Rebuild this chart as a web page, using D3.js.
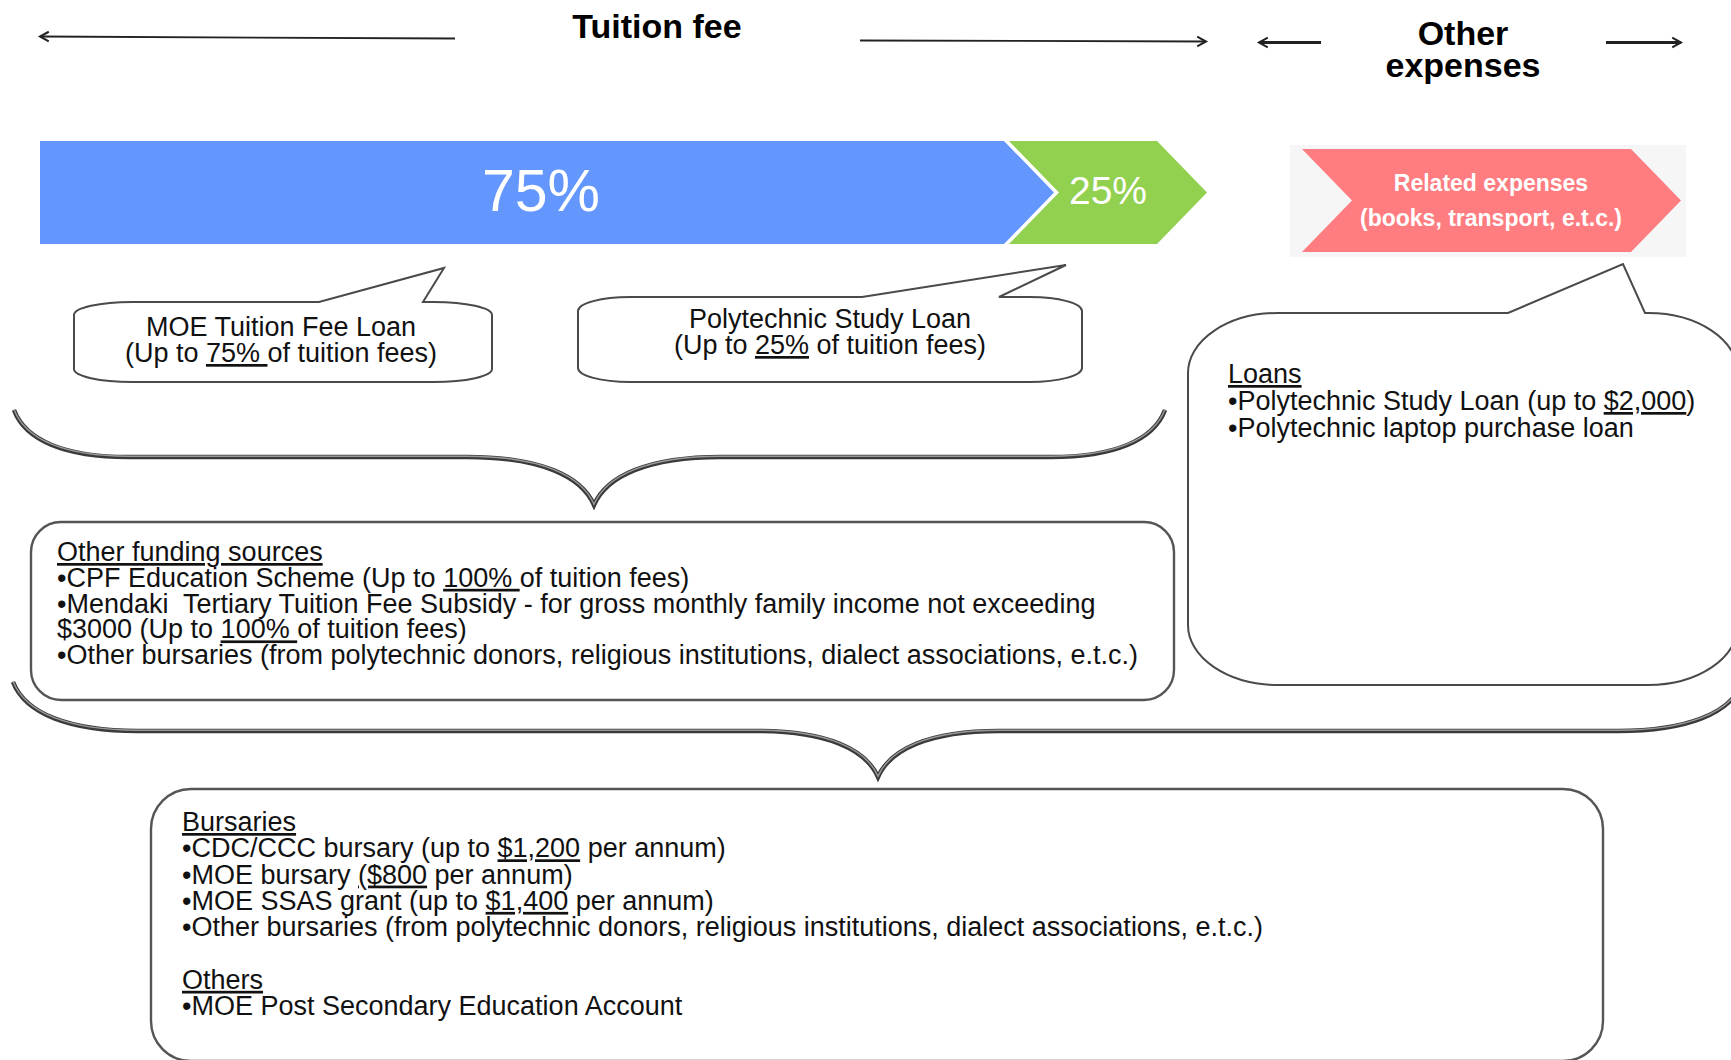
<!DOCTYPE html>
<html>
<head>
<meta charset="utf-8">
<script src="https://cdn.jsdelivr.net/npm/d3@7"></script>
<style>
body { margin: 0; background: #fff; }
text { font-family: "Liberation Sans", Arial, sans-serif; white-space: pre; }
</style>
</head>
<body>
<script>
var width = 1731, height = 1060;

// tuition fee split (percent)
var shares = [75, 25];
var shareLabels = ["75%", "25%"];
var shareColors = ["#6397fe", "#92d050"];

var headers = ["Tuition fee", "Other", "expenses"];
var relatedLines = ["Related expenses", "(books, transport, e.t.c.)"];

// text between _..._ is underlined
var moeLoanLines = ["MOE Tuition Fee Loan", "(Up to _75% _of tuition fees)"];
var polyLoanLines = ["Polytechnic Study Loan", "(Up to _25%_ of tuition fees)"];
var loansLines = [
  "_Loans_",
  "\u2022Polytechnic Study Loan (up to _$2,000_)",
  "\u2022Polytechnic laptop purchase loan"
];
var fundingLines = [
  "_Other funding sources_",
  "\u2022CPF Education Scheme (Up to _100% _of tuition fees)",
  "\u2022Mendaki  Tertiary Tuition Fee Subsidy - for gross monthly family income not exceeding",
  "$3000 (Up to _100% _of tuition fees)",
  "\u2022Other bursaries (from polytechnic donors, religious institutions, dialect associations, e.t.c.)"
];
var bursaryLines = [
  "_Bursaries_",
  "\u2022CDC/CCC bursary (up to _$1,200_ per annum)",
  "\u2022MOE bursary _($800_ per annum)",
  "\u2022MOE SSAS grant (up to _$1,400_ per annum)",
  "\u2022Other bursaries (from polytechnic donors, religious institutions, dialect associations, e.t.c.)",
  "",
  "_Others_",
  "\u2022MOE Post Secondary Education Account"
];

var svg = d3.select("body").append("svg")
    .attr("width", width)
    .attr("height", height);

// ---------- helpers ----------
function chevron(x0, x1, y0, y1, depth, notch) {
  var m = (y0 + y1) / 2;
  var p = d3.path();
  p.moveTo(x0, y0);
  p.lineTo(x1, y0);
  p.lineTo(x1 + depth, m);
  p.lineTo(x1, y1);
  p.lineTo(x0, y1);
  if (notch) p.lineTo(x0 + depth, m);
  p.closePath();
  return p.toString();
}

// rounded box with elliptical corners and an optional tail on the top edge
function callout(x0, y0, x1, y1, rx, ry, tail) {
  var p = "M" + (x0 + rx) + "," + y0;
  if (tail) {
    p += "L" + tail[0] + "," + y0 + "L" + tail[1] + "," + tail[2] + "L" + tail[3] + "," + y0;
  }
  p += "L" + (x1 - rx) + "," + y0;
  p += "A" + rx + " " + ry + " 0 0 1 " + x1 + "," + (y0 + ry);
  p += "L" + x1 + "," + (y1 - ry);
  p += "A" + rx + " " + ry + " 0 0 1 " + (x1 - rx) + "," + y1;
  p += "L" + (x0 + rx) + "," + y1;
  p += "A" + rx + " " + ry + " 0 0 1 " + x0 + "," + (y1 - ry);
  p += "L" + x0 + "," + (y0 + ry);
  p += "A" + rx + " " + ry + " 0 0 1 " + (x0 + rx) + "," + y0;
  return p + "Z";
}

function brace(xl, xr, xm, yTip, yBar, yPt, ew, mw) {
  return "M" + xl + "," + yTip +
    "C" + (xl + ew * 0.1) + "," + (yTip + (yBar - yTip) * 0.65) + " " + (xl + ew * 0.45) + "," + yBar + " " + (xl + ew) + "," + yBar +
    "L" + (xm - mw) + "," + yBar +
    "C" + (xm - mw * 0.42) + "," + yBar + " " + (xm - mw * 0.1) + "," + (yBar + (yPt - yBar) * 0.4) + " " + xm + "," + yPt +
    "C" + (xm + mw * 0.1) + "," + (yBar + (yPt - yBar) * 0.4) + " " + (xm + mw * 0.42) + "," + yBar + " " + (xm + mw) + "," + yBar +
    "L" + (xr - ew) + "," + yBar +
    "C" + (xr - ew * 0.45) + "," + yBar + " " + (xr - ew * 0.1) + "," + (yTip + (yBar - yTip) * 0.65) + " " + xr + "," + yTip;
}

function drawBrace(d) {
  svg.append("path").attr("d", d)
    .attr("fill", "none").attr("stroke", "#3a3a3a").attr("stroke-width", 4.5);
  svg.append("path").attr("d", d)
    .attr("fill", "none").attr("stroke", "#9a9a9a").attr("stroke-width", 1.4)
    .attr("transform", "translate(0,-0.8)");
}

function addLines(lines, x, y0, dy, anchor, size) {
  var t = svg.append("g");
  lines.forEach(function(line, i) {
    var text = t.append("text")
      .attr("x", x)
      .attr("y", y0 + i * dy)
      .attr("text-anchor", anchor)
      .attr("font-size", size)
      .attr("fill", "#111");
    line.split("_").forEach(function(seg, j) {
      if (!seg) return;
      var ts = text.append("tspan").text(seg);
      if (j % 2 === 1) ts.style("text-decoration", "underline");
    });
  });
}

function arrow(x1, y1, x2, y2, w) {
  var a = Math.atan2(y2 - y1, x2 - x1), L = 10;
  svg.append("line")
    .attr("x1", x1).attr("y1", y1).attr("x2", x2).attr("y2", y2)
    .attr("stroke", "#222").attr("stroke-width", w);
  svg.append("path")
    .attr("d", "M" + (x2 - L * Math.cos(a - 0.5)) + "," + (y2 - L * Math.sin(a - 0.5)) +
               "L" + x2 + "," + y2 +
               "L" + (x2 - L * Math.cos(a + 0.5)) + "," + (y2 - L * Math.sin(a + 0.5)))
    .attr("fill", "none").attr("stroke", "#222").attr("stroke-width", 2);
}

// ---------- headers ----------
arrow(455, 38.5, 40, 36.5, 1.8);
arrow(860, 40.5, 1206, 41.5, 1.8);
arrow(1321, 42.5, 1259, 42.5, 3);
arrow(1606, 42.5, 1681, 42.5, 3);

svg.append("text").attr("x", 657).attr("y", 38).attr("text-anchor", "middle")
  .attr("font-size", 34).attr("font-weight", "bold").text(headers[0]);
svg.append("text").attr("x", 1463).attr("y", 45).attr("text-anchor", "middle")
  .attr("font-size", 34).attr("font-weight", "bold").text(headers[1]);
svg.append("text").attr("x", 1463).attr("y", 77).attr("text-anchor", "middle")
  .attr("font-size", 34).attr("font-weight", "bold").text(headers[2]);

// ---------- tuition bar ----------
var cum = [0].concat(Array.from(d3.cumsum(shares)));
var x = d3.scaleLinear().domain([0, 75, 100]).range([40, 1004, 1157]);
var barTop = 141, barBot = 244, depth = 50, gap = 5;

var segs = shares.map(function(v, i) {
  return {
    x0: x(cum[i]) + (i > 0 ? gap : 0),
    x1: x(cum[i + 1]),
    notch: i > 0,
    color: shareColors[i],
    label: shareLabels[i],
    size: i === 0 ? 59 : 39
  };
});

svg.selectAll("path.seg").data(segs).enter().append("path")
  .attr("class", "seg")
  .attr("d", function(d) { return chevron(d.x0, d.x1, barTop, barBot, depth, d.notch); })
  .attr("fill", function(d) { return d.color; });

svg.selectAll("text.seg").data(segs).enter().append("text")
  .attr("class", "seg")
  .attr("x", function(d, i) { return (d.x0 + d.x1 + depth) / 2 - (i === 0 ? 6 : 0); })
  .attr("y", function(d, i) { return i === 0 ? 211 : 204; })
  .attr("text-anchor", "middle")
  .attr("font-size", function(d) { return d.size; })
  .attr("fill", "#fff")
  .text(function(d) { return d.label; });

// related expenses chevron
svg.append("rect").attr("x", 1290).attr("y", 145).attr("width", 396).attr("height", 112)
  .attr("fill", "#f6f6f6");
svg.append("path").attr("d", chevron(1302, 1631, 149, 252, 50, true)).attr("fill", "#ff7c80");
relatedLines.forEach(function(l, i) {
  svg.append("text").attr("x", 1491).attr("y", 191 + i * 35).attr("text-anchor", "middle")
    .attr("font-size", 23).attr("font-weight", "bold").attr("fill", "#fff").text(l);
});

// ---------- callouts ----------
var boxStroke = "#4a4a4a";
svg.append("path").attr("d", callout(74, 302, 492, 382, 58, 13, [319, 444, 268, 423]))
  .attr("fill", "#fff").attr("stroke", boxStroke).attr("stroke-width", 2);
addLines(moeLoanLines, 281, 336, 26, "middle", 27);

svg.append("path").attr("d", callout(578, 297, 1082, 382, 52, 14, [862, 1066, 265, 999]))
  .attr("fill", "#fff").attr("stroke", boxStroke).attr("stroke-width", 2);
addLines(polyLoanLines, 830, 328, 26, "middle", 27);

svg.append("path").attr("d", callout(1188, 313, 1738, 685, 90, 60, [1508, 1623, 264, 1645]))
  .attr("fill", "#fff").attr("stroke", boxStroke).attr("stroke-width", 2);
addLines(loansLines, 1228, 383, 27, "start", 27);

// ---------- braces ----------
drawBrace(brace(14, 1165, 594, 410, 457, 505, 114, 127));
drawBrace(brace(13, 1743, 878, 682, 731, 777, 125, 121));

// ---------- funding boxes ----------
svg.append("rect").attr("x", 31).attr("y", 522).attr("width", 1143).attr("height", 178)
  .attr("rx", 30).attr("ry", 30)
  .attr("fill", "#fff").attr("stroke", "#555").attr("stroke-width", 2.4);
addLines(fundingLines, 57, 561, 25.8, "start", 27);

svg.append("rect").attr("x", 151).attr("y", 789).attr("width", 1452).attr("height", 272)
  .attr("rx", 40).attr("ry", 40)
  .attr("fill", "#fff").attr("stroke", "#555").attr("stroke-width", 2.4);
addLines(bursaryLines, 182, 831, 26.3, "start", 27);
</script>
</body>
</html>
